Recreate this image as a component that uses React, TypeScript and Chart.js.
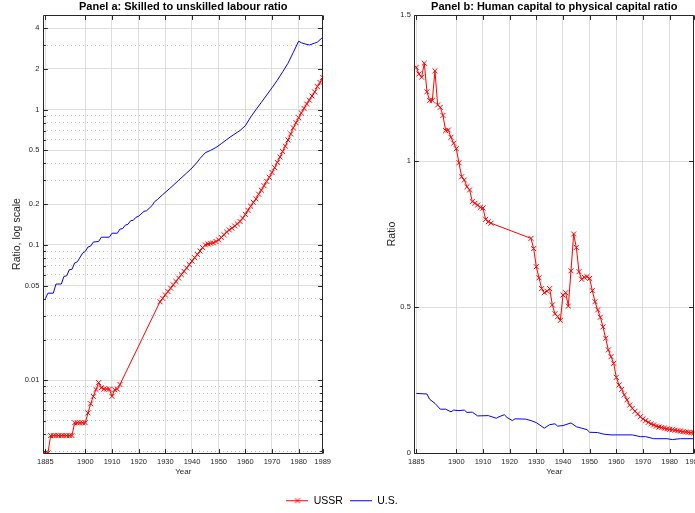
import React, { useEffect, useRef } from 'react';
import { Chart, registerables } from 'chart.js';

Chart.register(...registerables);

const FONT = '"Liberation Sans", Arial, Helvetica, sans-serif';
const AXIS_COLOR = '#262626';
const GRID_MAJOR = '#dedede';
const GRID_MINOR = '#c4c4c4';
const RED = '#ff0000';
const BLUE = '#0000ff';

// ---------- Shared x axis ----------
const xTickYears = [1885, 1900, 1910, 1920, 1930, 1940, 1950, 1960, 1970, 1980, 1989];

// ---------- Panel a: skilled to unskilled labour ratio (log scale) ----------
const ussrYears = [
  1885, 1886, 1887, 1888, 1889, 1890, 1891, 1892, 1893, 1894, 1895, 1896, 1897, 1898, 1899,
  1900, 1901, 1902, 1903, 1904, 1905, 1906, 1907, 1908, 1909, 1910, 1911, 1912, 1913,
  1928, 1929, 1930, 1931, 1932, 1933, 1934, 1935, 1936, 1937, 1938, 1939,
  1940, 1941, 1942, 1943, 1944, 1945, 1946, 1947, 1948, 1949,
  1950, 1951, 1952, 1953, 1954, 1955, 1956, 1957, 1958, 1959,
  1960, 1961, 1962, 1963, 1964, 1965, 1966, 1967, 1968, 1969,
  1970, 1971, 1972, 1973, 1974, 1975, 1976, 1977, 1978, 1979,
  1980, 1981, 1982, 1983, 1984, 1985, 1986, 1987, 1988, 1989,
];
const ussrSkillRatio = [
  0.0029, 0.0029, 0.0039, 0.0039, 0.0039, 0.0039, 0.0039, 0.0039, 0.0039, 0.0039, 0.0039,
  0.00485, 0.00485, 0.00485, 0.00485, 0.00485, 0.00574, 0.0067, 0.0076, 0.00854, 0.0096,
  0.0088, 0.0086, 0.0086, 0.0086, 0.0076, 0.0085, 0.0086, 0.0093,
  0.038, 0.0403, 0.0427, 0.0452, 0.0479, 0.0507, 0.0537, 0.0569, 0.0603, 0.0638, 0.0676, 0.0716,
  0.0759, 0.0804, 0.0851, 0.0902, 0.0955, 0.1, 0.1017, 0.1028, 0.1035, 0.106,
  0.109, 0.1135, 0.119, 0.1245, 0.129, 0.133, 0.138, 0.143, 0.149, 0.158,
  0.168, 0.18, 0.193, 0.2065, 0.219, 0.237, 0.254, 0.274, 0.295, 0.316,
  0.343, 0.372, 0.407, 0.447, 0.49, 0.537, 0.596, 0.661, 0.733, 0.8,
  0.87, 0.944, 1.02, 1.1, 1.175, 1.26, 1.35, 1.48, 1.585, 1.73,
];
const usYearsA = [
  1885, 1886, 1888, 1889, 1891, 1892, 1893, 1894, 1895, 1896, 1897, 1899, 1900, 1901, 1902,
  1903, 1905, 1906, 1909, 1910, 1912, 1913, 1914, 1915, 1916, 1917, 1918, 1919, 1920, 1922,
  1923, 1925, 1926, 1927, 1929, 1932, 1935, 1938, 1940, 1942, 1943, 1945, 1947, 1949, 1951,
  1953, 1955, 1957, 1958, 1960, 1962, 1964, 1966, 1968, 1970, 1972, 1974, 1976, 1978, 1980,
  1981, 1982, 1984, 1986, 1987, 1989,
];
const usSkillRatio = [
  0.04, 0.044, 0.044, 0.0514, 0.0514, 0.0586, 0.059, 0.0656, 0.066, 0.0735, 0.075, 0.087, 0.0895, 0.0965, 0.098,
  0.105, 0.106, 0.114, 0.114, 0.122, 0.122, 0.131, 0.132, 0.14, 0.142, 0.151, 0.152, 0.16, 0.163, 0.177,
  0.179, 0.195, 0.209, 0.216, 0.235, 0.265, 0.3, 0.34, 0.37, 0.41, 0.435, 0.48, 0.5, 0.525, 0.56,
  0.6, 0.64, 0.68, 0.7, 0.76, 0.88, 1.0, 1.13, 1.28, 1.45, 1.65, 1.9, 2.2, 2.65, 3.2,
  3.12, 3.07, 3.0, 3.1, 3.15, 3.42,
];
const logMajorTicks = [0.01, 0.05, 0.1, 0.2, 0.5, 1, 2, 4];
const logMinorTicks = [
  0.003, 0.004, 0.005, 0.006, 0.007, 0.008, 0.009,
  0.02, 0.03, 0.04, 0.06, 0.07, 0.08, 0.09,
  0.3, 0.4, 0.6, 0.7, 0.8, 0.9, 3,
];

// ---------- Panel b: human capital to physical capital ratio ----------
const ussrHumanRatio = [
  1.321, 1.298, 1.287, 1.335, 1.237, 1.207, 1.207, 1.309, 1.192, 1.184, 1.156, 1.104, 1.106, 1.081, 1.061,
  1.042, 0.994, 0.946, 0.935, 0.912, 0.901, 0.861, 0.855, 0.849, 0.841, 0.839, 0.8, 0.792, 0.787,
  0.735, 0.7, 0.638, 0.6, 0.563, 0.549, 0.554, 0.563, 0.507, 0.477, 0.467, 0.454,
  0.541, 0.549, 0.503, 0.624, 0.75, 0.704, 0.621, 0.595, 0.602, 0.604,
  0.598, 0.556, 0.518, 0.49, 0.465, 0.432, 0.393, 0.353, 0.33, 0.307,
  0.259, 0.233, 0.218, 0.199, 0.182, 0.164, 0.153, 0.143, 0.134, 0.124,
  0.117, 0.111, 0.105, 0.1, 0.096, 0.092, 0.089, 0.087, 0.085, 0.083,
  0.081, 0.08, 0.078, 0.076, 0.075, 0.073, 0.072, 0.071, 0.07, 0.069,
];
const usYearsB = [
  1885, 1889, 1890, 1892, 1894, 1896, 1898, 1899, 1901, 1903, 1904, 1906, 1908, 1912, 1915,
  1916, 1918, 1919, 1921, 1922, 1926, 1928, 1930, 1933, 1935, 1937, 1938, 1940, 1943, 1945,
  1947, 1949, 1950, 1953, 1955, 1958, 1966, 1969, 1971, 1974, 1979, 1981, 1984, 1989,
];
const usHumanRatio = [
  0.204, 0.202, 0.184, 0.17, 0.15, 0.15, 0.141, 0.147, 0.145, 0.147, 0.139, 0.14, 0.127, 0.128, 0.119,
  0.124, 0.131, 0.122, 0.111, 0.117, 0.116, 0.111, 0.104, 0.085, 0.097, 0.1, 0.092, 0.094, 0.103, 0.09,
  0.085, 0.08, 0.071, 0.07, 0.065, 0.062, 0.062, 0.056, 0.056, 0.049, 0.049, 0.046, 0.049, 0.049,
];
const linTicksB = [0, 0.5, 1, 1.5];

const pairs = (xs: number[], ys: number[]) => xs.map((x, i) => ({ x, y: ys[i] }));
const near = (a: number, b: number) => Math.abs(a - b) <= Math.abs(b) * 1e-6 + 1e-12;
const isMajorLog = (v: number) => logMajorTicks.some((m) => near(v, m));

function makeFrame(isMajor: (v: number) => boolean) {
  return {
    id: 'frame',
    afterDraw(chart: any) {
      const { ctx, chartArea } = chart;
      const L = Math.round(chartArea.left) + 0.5;
      const R = Math.round(chartArea.right) - 0.5;
      const T = Math.round(chartArea.top) + 0.5;
      const B = Math.round(chartArea.bottom) + 0.5;
      ctx.save();
      ctx.strokeStyle = AXIS_COLOR;
      ctx.lineWidth = 1;
      ctx.beginPath();
      ctx.rect(L, T, R - L, B - T);
      ctx.stroke();
      const xs = chart.scales.x;
      const ys = chart.scales.y;
      ctx.beginPath();
      xs.ticks.forEach((t: any) => {
        const p = Math.round(xs.getPixelForValue(t.value)) + 0.5;
        ctx.moveTo(p, B); ctx.lineTo(p, B - 4.4);
        ctx.moveTo(p, T); ctx.lineTo(p, T + 4.4);
      });
      ys.ticks.forEach((t: any) => {
        const p = Math.round(ys.getPixelForValue(t.value)) + 0.5;
        const len = isMajor(t.value) ? 4.4 : 2.4;
        ctx.moveTo(L, p); ctx.lineTo(L + len, p);
        ctx.moveTo(R, p); ctx.lineTo(R - len, p);
      });
      ctx.stroke();
      ctx.restore();
    },
  };
}

function xScale() {
  return {
    type: 'linear',
    min: 1884.25,
    max: 1989.2,
    afterBuildTicks: (s: any) => { s.ticks = xTickYears.map((v) => ({ value: v })); },
    afterFit: (s: any) => { s.height = 27; },
    grid: { color: GRID_MAJOR, lineWidth: 1, drawTicks: false },
    border: { display: false },
    ticks: {
      autoSkip: false, maxRotation: 0, minRotation: 0, padding: 4,
      font: { family: FONT, size: 7.5 }, color: AXIS_COLOR,
      callback: (v: any) => String(v),
    },
    title: {
      display: true, text: 'Year', color: AXIS_COLOR,
      font: { family: FONT, size: 8 }, padding: { top: 0, bottom: 3.2 },
    },
  };
}

function titleOpts(text: string) {
  return {
    display: true, text, color: '#000', fullSize: false,
    font: { family: FONT, size: 11, weight: 'bold' },
    padding: { top: 0, bottom: 1.8 },
  };
}

function configA(): any {
  const yTicks = [...logMinorTicks, ...logMajorTicks].sort((a, b) => a - b);
  return {
    type: 'line',
    data: {
      datasets: [
        {
          label: 'USSR', data: pairs(ussrYears, ussrSkillRatio),
          borderColor: RED, backgroundColor: RED, borderWidth: 1,
          pointStyle: 'crossRot', pointRadius: 3.5, pointBorderWidth: 1, pointBorderColor: RED,
          tension: 0,
        },
        {
          label: 'U.S.', data: pairs(usYearsA, usSkillRatio),
          borderColor: BLUE, backgroundColor: BLUE, borderWidth: 1, pointRadius: 0, tension: 0,
        },
      ],
    },
    options: {
      animation: false, responsive: false,
      layout: { autoPadding: false, padding: { left: 0, right: 16.8, top: 0, bottom: 0 } },
      scales: {
        x: xScale(),
        y: {
          type: 'logarithmic', min: 0.0029, max: 5,
          afterBuildTicks: (s: any) => { s.ticks = yTicks.map((v) => ({ value: v })); },
          afterFit: (s: any) => { s.width = 43.3; },
          grid: {
            drawTicks: false, lineWidth: 1,
            color: (c: any) => (c.tick && !isMajorLog(c.tick.value) ? GRID_MINOR : GRID_MAJOR),
          },
          border: {
            display: false,
            dash: (c: any) => (c.tick && !isMajorLog(c.tick.value) ? [1, 3] : []),
          },
          ticks: {
            autoSkip: false, padding: 4, font: { family: FONT, size: 7.5 }, color: AXIS_COLOR,
            callback: (v: any) => (isMajorLog(Number(v)) ? String(v) : ''),
          },
          title: {
            display: true, text: 'Ratio, log scale', color: AXIS_COLOR,
            font: { family: FONT, size: 10.5 }, padding: { top: 10.4, bottom: 0 },
          },
        },
      },
      plugins: {
        title: titleOpts('Panel a: Skilled to unskilled labour ratio'),
        legend: { display: false },
        tooltip: { enabled: false },
      },
    },
    plugins: [makeFrame(isMajorLog)],
  };
}

function configB(): any {
  return {
    type: 'line',
    data: {
      datasets: [
        {
          label: 'USSR', data: pairs(ussrYears, ussrHumanRatio),
          borderColor: RED, backgroundColor: RED, borderWidth: 1,
          pointStyle: 'crossRot', pointRadius: 3.5, pointBorderWidth: 1, pointBorderColor: RED,
          tension: 0,
        },
        {
          label: 'U.S.', data: pairs(usYearsB, usHumanRatio),
          borderColor: BLUE, backgroundColor: BLUE, borderWidth: 1, pointRadius: 0, tension: 0,
        },
      ],
    },
    options: {
      animation: false, responsive: false,
      layout: { autoPadding: false, padding: { left: 0, right: 20.8, top: 0, bottom: 0 } },
      scales: {
        x: xScale(),
        y: {
          type: 'linear', min: 0, max: 1.5,
          afterBuildTicks: (s: any) => { s.ticks = linTicksB.map((v) => ({ value: v })); },
          afterFit: (s: any) => { s.width = 69.3; },
          grid: { drawTicks: false, lineWidth: 1, color: GRID_MAJOR },
          border: { display: false },
          ticks: {
            autoSkip: false, padding: 3.5, font: { family: FONT, size: 7.5 }, color: AXIS_COLOR,
            callback: (v: any) => String(v),
          },
          title: {
            display: true, text: 'Ratio', color: AXIS_COLOR,
            font: { family: FONT, size: 10.5 }, padding: { top: 40.4, bottom: 0 },
          },
        },
      },
      plugins: {
        title: titleOpts('Panel b: Human capital to physical capital ratio'),
        legend: { display: false },
        tooltip: { enabled: false },
      },
    },
    plugins: [makeFrame(() => true)],
  };
}

function legendSwatch(color: string, marker: boolean) {
  const c = document.createElement('canvas');
  c.width = 22;
  c.height = 9;
  const g = c.getContext('2d')!;
  g.strokeStyle = color;
  g.lineWidth = 1;
  g.beginPath();
  g.moveTo(0, 4.5);
  g.lineTo(22, 4.5);
  if (marker) {
    const d = 2.5;
    g.moveTo(11 - d, 4.5 - d); g.lineTo(11 + d, 4.5 + d);
    g.moveTo(11 - d, 4.5 + d); g.lineTo(11 + d, 4.5 - d);
  }
  g.stroke();
  return c;
}

function configLegend(): any {
  const swatches = [legendSwatch(RED, true), legendSwatch(BLUE, false)];
  return {
    type: 'line',
    data: {
      datasets: [
        { label: 'USSR', data: [], borderColor: RED },
        { label: 'U.S.', data: [], borderColor: BLUE },
      ],
    },
    options: {
      animation: false, responsive: false,
      layout: { padding: { top: 0, right: 11, left: 0, bottom: 0 } },
      scales: { x: { display: false }, y: { display: false } },
      plugins: {
        title: { display: false },
        tooltip: { enabled: false },
        legend: {
          display: true, position: 'bottom',
          labels: {
            usePointStyle: true, pointStyleWidth: 22, boxHeight: 9, padding: 7,
            font: { family: FONT, size: 10.5 }, color: '#000',
            generateLabels: (chart: any) =>
              chart.data.datasets.map((ds: any, i: number) => ({
                text: ds.label, pointStyle: swatches[i], fillStyle: ds.borderColor,
                strokeStyle: ds.borderColor, lineWidth: 0, hidden: false, datasetIndex: i,
                fontColor: '#000',
              })),
          },
        },
      },
    },
  };
}

export default function App() {
  const refA = useRef<HTMLCanvasElement>(null);
  const refB = useRef<HTMLCanvasElement>(null);
  const refL = useRef<HTMLCanvasElement>(null);

  useEffect(() => {
    const a = new Chart(refA.current as HTMLCanvasElement, configA());
    const b = new Chart(refB.current as HTMLCanvasElement, configB());
    const l = new Chart(refL.current as HTMLCanvasElement, configLegend());
    return () => { a.destroy(); b.destroy(); l.destroy(); };
  }, []);

  return (
    <div style={{ position: 'fixed', left: 0, top: 0, width: 695, height: 513, overflow: 'hidden', background: '#fff' }}>
      <canvas ref={refA} width={340} height={480} style={{ position: 'absolute', left: 0, top: 0 }} />
      <canvas ref={refB} width={370} height={480} style={{ position: 'absolute', left: 345, top: 0 }} />
      <canvas ref={refL} width={695} height={112} style={{ position: 'absolute', left: 0, top: 404, pointerEvents: 'none' }} />
    </div>
  );
}
